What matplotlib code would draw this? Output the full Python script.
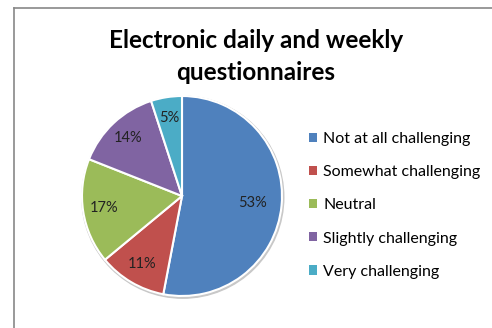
import matplotlib.pyplot as plt
from matplotlib.patches import Patch, Circle

categories = ['Not at all challenging', 'Somewhat challenging', 'Neutral',
              'Slightly challenging', 'Very challenging']
percent = [53, 11, 17, 14, 5]
colors = ['#4F81BD', '#C0504D', '#9BBB59', '#8064A2', '#4BACC6']

plt.rcParams['font.family'] = ['Lato', 'DejaVu Sans']

fig = plt.figure(figsize=(4.92, 3.28), dpi=100)

# chart border (only left/top visible in the crop)
fig.add_artist(plt.Line2D([14/492, 14/492], [0, 1 - 8/328], color='#888888', lw=1.2))
fig.add_artist(plt.Line2D([14/492, 1], [1 - 8/328, 1 - 8/328], color='#888888', lw=1.2))

fig.text(0.52, 1 - 40/328, 'Electronic daily and weekly', ha='center', va='center',
         fontsize=17.5, fontweight='bold')
fig.text(0.52, 1 - 72/328, 'questionnaires', ha='center', va='center',
         fontsize=17.5, fontweight='bold')

cx, cy, r = 182/492, 1 - 196/328, 103
ax = fig.add_axes([cx - r/492, cy - r/328, 2*r/492, 2*r/328])
# faint shadow like Excel
ax.add_patch(Circle((0.008, -0.012), 1.01, color='#c8c8c8', zorder=0))
wedges, texts, autotexts = ax.pie(percent, colors=colors, startangle=90, counterclock=False,
                                  autopct=lambda p: '%d%%' % round(p), pctdistance=0.79, radius=1,
                                  wedgeprops=dict(edgecolor='white', linewidth=1.5),
                                  textprops=dict(fontsize=10.5, color='#222222'))
# Excel put the big label a bit closer in
x, y = autotexts[0].get_position()
autotexts[0].set_position((x * 0.71 / 0.79, y * 0.71 / 0.79))
ax.set_xlim(-1.03, 1.03)
ax.set_ylim(-1.03, 1.03)
ax.set_aspect('auto')
ax.axis('off')

handles = [Patch(facecolor=c, edgecolor='none') for c in colors]
fig.legend(handles, categories, loc='upper left', bbox_to_anchor=(309/492, 1 - 132/328),
           frameon=False, fontsize=11.5, handlelength=0.5, handleheight=0.5,
           handletextpad=0.4, labelspacing=1.2, borderaxespad=0, borderpad=0)

fig.savefig('out.png', dpi=100)
